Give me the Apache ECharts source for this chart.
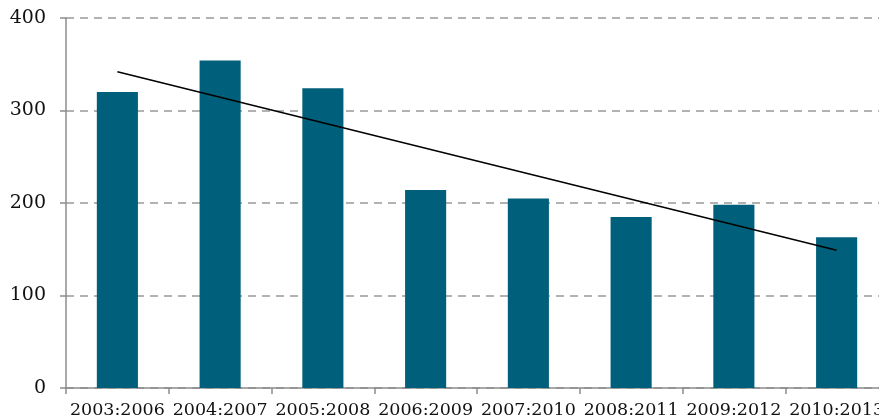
<!DOCTYPE html>
<html><head><meta charset="utf-8">
<script src="https://cdn.jsdelivr.net/npm/echarts@6/dist/echarts.min.js"></script>
<style>html,body{margin:0;padding:0;background:#fff}#c{width:879px;height:419px}</style>
</head><body><div id="c"></div>
<script>
const categories = ["2003:2006","2004:2007","2005:2008","2006:2009","2007:2010","2008:2011","2009:2012","2010:2013"];
const values = [320, 354, 324, 214, 205, 185, 198, 163];
const trendEnds = [342, 149];
const yTicks = [0, 100, 200, 300, 400];

const trend = categories.map((c, i) => i === 0 ? trendEnds[0] : (i === categories.length - 1 ? trendEnds[1] : null));
const chart = echarts.init(document.getElementById('c'));
chart.setOption({
  animation: false,
  grid: { left: 66, width: 822, top: 18, bottom: 31, containLabel: false, outerBoundsMode: 'none' },
  xAxis: {
    type: 'category', data: categories, boundaryGap: true,
    axisLine: { lineStyle: { color: '#8c8c8c', width: 1.5 } },
    axisTick: { show: true, length: 6, lineStyle: { color: '#8c8c8c', width: 1.5 } },
    axisLabel: { color: '#111', fontFamily: 'DejaVu Serif', fontSize: 17.5, margin: 13, interval: 0 }
  },
  yAxis: {
    type: 'value', min: yTicks[0], max: yTicks[yTicks.length - 1], interval: 100,
    axisLine: { show: true, lineStyle: { color: '#8c8c8c', width: 1.5 } },
    axisTick: { show: true, length: 6, lineStyle: { color: '#8c8c8c', width: 1.5 } },
    axisLabel: { color: '#111', fontFamily: 'DejaVu Serif', fontSize: 19, margin: 20 },
    splitLine: { show: true, lineStyle: { color: '#999', width: 1.5, type: [8, 6] } }
  },
  series: [
    { type: 'bar', data: values, barWidth: '40%', itemStyle: { color: '#005f7a' } },
    { type: 'line', data: trend, connectNulls: true, symbol: 'none', lineStyle: { color: '#000', width: 1.5 } }
  ]
});
</script></body></html>
